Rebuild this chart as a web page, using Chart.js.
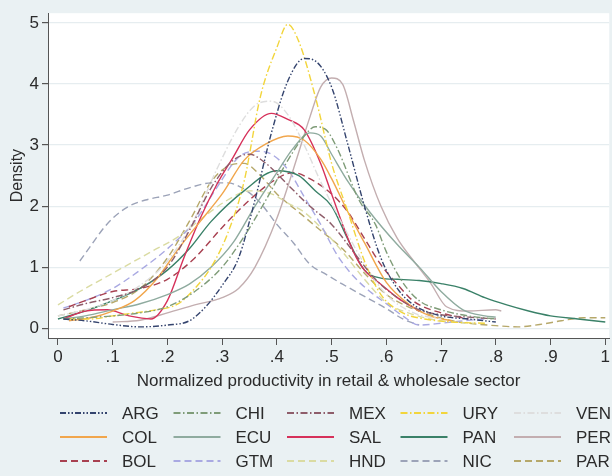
<!DOCTYPE html>
<html>
<head>
<meta charset="utf-8">
<script src="https://cdn.jsdelivr.net/npm/chart.js@4.4.1/dist/chart.umd.min.js"></script>
<style>
  html, body { margin: 0; padding: 0; background: #eaf1f3; }
  #wrap { width: 612px; height: 476px; }
</style>
</head>
<body>
<div id="wrap"><canvas id="c" width="612" height="476"></canvas></div>
<script>
// ---- tick labels ----
const xTickValues = [0, 0.1, 0.2, 0.3, 0.4, 0.5, 0.6, 0.7, 0.8, 0.9, 1];
const xTickLabels = ["0", ".1", ".2", ".3", ".4", ".5", ".6", ".7", ".8", ".9", "1"];
const yTickValues = [0, 1, 2, 3, 4, 5];
const yTickLabels = ["0", "1", "2", "3", "4", "5"];

// ---- series (x = normalized productivity, y = density) ----
const ARG_x = [0.01, 0.05, 0.1, 0.15, 0.2, 0.24, 0.27, 0.3, 0.33, 0.36, 0.39, 0.42, 0.45, 0.47, 0.5, 0.53, 0.56, 0.59, 0.62, 0.65, 0.7, 0.75, 0.8];
const ARG_y = [0.15, 0.12, 0.06, 0.02, 0.05, 0.12, 0.35, 0.7, 1.15, 2.1, 3.2, 4.05, 4.42, 4.38, 3.95, 3.0, 2.0, 1.15, 0.65, 0.38, 0.2, 0.15, 0.1];

const CHI_x = [0.01, 0.05, 0.1, 0.15, 0.2, 0.25, 0.3, 0.34, 0.38, 0.42, 0.45, 0.47, 0.49, 0.51, 0.55, 0.58, 0.6, 0.63, 0.66, 0.7, 0.75, 0.8];
const CHI_y = [0.15, 0.17, 0.2, 0.25, 0.35, 0.6, 1.0, 1.5, 2.1, 2.75, 3.15, 3.3, 3.25, 2.95, 2.1, 1.7, 1.25, 0.75, 0.45, 0.3, 0.2, 0.15];

const MEX_x = [0.01, 0.05, 0.1, 0.15, 0.2, 0.24, 0.28, 0.32, 0.35, 0.38, 0.42, 0.46, 0.5, 0.54, 0.58, 0.62, 0.66, 0.7, 0.75, 0.8];
const MEX_y = [0.3, 0.4, 0.5, 0.65, 1.0, 1.6, 2.3, 2.75, 2.85, 2.7, 2.35, 2.0, 1.7, 1.25, 0.8, 0.5, 0.3, 0.22, 0.18, 0.15];

const URY_x = [0.02, 0.06, 0.1, 0.14, 0.18, 0.22, 0.25, 0.28, 0.31, 0.34, 0.37, 0.4, 0.42, 0.44, 0.47, 0.5, 0.53, 0.56, 0.59, 0.63, 0.67, 0.72, 0.78];
const URY_y = [0.15, 0.15, 0.2, 0.25, 0.3, 0.4, 0.65, 1.0, 1.55, 2.4, 3.8, 4.6, 4.98, 4.7, 3.8, 2.7, 1.9, 1.1, 0.55, 0.25, 0.15, 0.1, 0.08];

const VEN_x = [0.0, 0.05, 0.1, 0.15, 0.2, 0.25, 0.29, 0.33, 0.36, 0.39, 0.42, 0.45, 0.48, 0.52, 0.56, 0.6, 0.65, 0.7];
const VEN_y = [0.2, 0.3, 0.45, 0.7, 1.1, 1.8, 2.6, 3.3, 3.65, 3.72, 3.5, 3.0, 2.4, 1.7, 1.05, 0.55, 0.25, 0.15];

const COL_x = [0.02, 0.06, 0.1, 0.14, 0.18, 0.22, 0.26, 0.3, 0.34, 0.38, 0.42, 0.45, 0.48, 0.5, 0.53, 0.56, 0.6, 0.64, 0.68, 0.72];
const COL_y = [0.12, 0.17, 0.28, 0.45, 0.8, 1.3, 1.75, 2.2, 2.75, 3.02, 3.15, 3.08, 2.77, 2.45, 1.9, 1.4, 0.75, 0.4, 0.2, 0.12];

const ECU_x = [0.01, 0.05, 0.1, 0.15, 0.2, 0.24, 0.28, 0.32, 0.36, 0.4, 0.43, 0.46, 0.48, 0.5, 0.53, 0.57, 0.62, 0.66, 0.7, 0.74, 0.78, 0.8];
const ECU_y = [0.15, 0.2, 0.3, 0.4, 0.55, 0.72, 1.0, 1.4, 2.0, 2.55, 2.95, 3.2, 3.15, 2.85, 2.4, 1.9, 1.37, 1.0, 0.6, 0.3, 0.2, 0.18];

const SAL_x = [0.01, 0.05, 0.09, 0.13, 0.17, 0.2, 0.23, 0.26, 0.29, 0.32, 0.35, 0.39, 0.42, 0.45, 0.48, 0.5, 0.52, 0.54, 0.56, 0.59, 0.62, 0.66];
const SAL_y = [0.15, 0.28, 0.3, 0.2, 0.15, 0.45, 1.15, 1.8, 2.35, 2.8, 3.25, 3.52, 3.42, 3.25, 2.7, 2.2, 1.7, 1.25, 0.95, 0.72, 0.5, 0.28];

const PAN_x = [0.0, 0.05, 0.1, 0.15, 0.2, 0.24, 0.28, 0.34, 0.4, 0.44, 0.47, 0.5, 0.53, 0.56, 0.59, 0.62, 0.66, 0.7, 0.74, 0.78, 0.82, 0.86, 0.9, 0.95, 1.0];
const PAN_y = [0.15, 0.28, 0.45, 0.65, 0.95, 1.3, 1.75, 2.25, 2.58, 2.5, 2.25, 2.0, 1.45, 0.95, 0.82, 0.8, 0.78, 0.73, 0.65, 0.5, 0.38, 0.28, 0.2, 0.15, 0.1];

const PER_x = [0.1, 0.15, 0.2, 0.25, 0.3, 0.33, 0.36, 0.4, 0.43, 0.46, 0.48, 0.5, 0.52, 0.54, 0.56, 0.59, 0.62, 0.65, 0.68, 0.71, 0.75, 0.8, 0.81];
const PER_y = [0.1, 0.13, 0.25, 0.38, 0.5, 0.65, 1.0, 1.8, 2.6, 3.45, 3.95, 4.1, 4.0, 3.4, 2.75, 2.0, 1.47, 1.1, 0.75, 0.35, 0.28, 0.3, 0.28];

const BOL_x = [0.02, 0.05, 0.1, 0.15, 0.2, 0.25, 0.3, 0.35, 0.4, 0.43, 0.46, 0.5, 0.53, 0.56, 0.59, 0.62, 0.65, 0.7, 0.75];
const BOL_y = [0.35, 0.45, 0.6, 0.65, 0.8, 1.15, 1.65, 2.1, 2.45, 2.55, 2.45, 2.2, 1.9, 1.47, 1.04, 0.72, 0.44, 0.25, 0.15];

const GTM_x = [0.01, 0.05, 0.1, 0.15, 0.2, 0.25, 0.29, 0.33, 0.36, 0.39, 0.42, 0.45, 0.48, 0.51, 0.54, 0.57, 0.6, 0.63, 0.66, 0.7, 0.74, 0.78];
const GTM_y = [0.33, 0.45, 0.65, 0.95, 1.3, 1.75, 2.3, 2.8, 2.9, 2.85, 2.6, 2.15, 1.7, 1.2, 0.85, 0.6, 0.4, 0.2, 0.05, 0.08, 0.12, 0.15];

const HND_x = [0.0, 0.04, 0.08, 0.12, 0.17, 0.22, 0.27, 0.31, 0.35, 0.39, 0.42, 0.45, 0.48, 0.52, 0.56, 0.6, 0.64, 0.68, 0.72, 0.76];
const HND_y = [0.38, 0.6, 0.8, 1.0, 1.25, 1.5, 1.85, 2.1, 2.25, 2.2, 2.05, 1.9, 1.65, 1.25, 0.8, 0.42, 0.25, 0.15, 0.1, 0.08];

const NIC_x = [0.04, 0.06, 0.08, 0.1, 0.13, 0.16, 0.2, 0.24, 0.28, 0.31, 0.34, 0.37, 0.4, 0.43, 0.46, 0.49, 0.52, 0.56, 0.6, 0.63, 0.66];
const NIC_y = [1.1, 1.35, 1.6, 1.8, 2.0, 2.1, 2.18, 2.3, 2.38, 2.38, 2.28, 2.05, 1.7, 1.4, 1.05, 0.88, 0.72, 0.52, 0.32, 0.15, 0.05];

const PAR_x = [0.0, 0.05, 0.1, 0.15, 0.2, 0.24, 0.28, 0.31, 0.34, 0.37, 0.4, 0.44, 0.48, 0.52, 0.56, 0.6, 0.64, 0.68, 0.72, 0.76, 0.8, 0.84, 0.88, 0.92, 0.96, 1.0];
const PAR_y = [0.2, 0.3, 0.42, 0.65, 1.15, 1.75, 2.4, 2.65, 2.7, 2.5, 2.2, 1.9, 1.6, 1.3, 0.9, 0.55, 0.35, 0.22, 0.12, 0.07, 0.04, 0.02, 0.06, 0.12, 0.17, 0.17];

const countries = ["ARG", "CHI", "MEX", "URY", "VEN", "COL", "ECU", "SAL", "PAN", "PER", "BOL", "GTM", "HND", "NIC", "PAR"];
const seriesX = [ARG_x, CHI_x, MEX_x, URY_x, VEN_x, COL_x, ECU_x, SAL_x, PAN_x, PER_x, BOL_x, GTM_x, HND_x, NIC_x, PAR_x];
const seriesY = [ARG_y, CHI_y, MEX_y, URY_y, VEN_y, COL_y, ECU_y, SAL_y, PAN_y, PER_y, BOL_y, GTM_y, HND_y, NIC_y, PAR_y];

// ---- styles ----
const DASHDOTDOT = [6, 2, 1.5, 2, 1.5, 2];
const DASHDOT = [7, 2.5, 1.5, 2.5];
const DASH = [7, 4];
const SOLID = [];
const styles = [
  { c: "#34446e", d: DASHDOTDOT },
  { c: "#7f9c78", d: DASHDOT },
  { c: "#8e5d6a", d: DASHDOT },
  { c: "#f2d53c", d: DASHDOT },
  { c: "#dedede", d: DASHDOT },
  { c: "#f1a64c", d: SOLID },
  { c: "#8fab9f", d: SOLID },
  { c: "#d6315a", d: SOLID },
  { c: "#3a8168", d: SOLID },
  { c: "#c3aeb0", d: SOLID },
  { c: "#a84050", d: DASH },
  { c: "#a9a9e2", d: DASH },
  { c: "#dadba2", d: DASH },
  { c: "#9ca3b8", d: DASH },
  { c: "#b6a86a", d: DASH }
];

const FONT = "'Liberation Sans', Arial, Helvetica, sans-serif";
const TXT = "#2b2b2b";

const datasets = countries.map((name, i) => ({
  label: name,
  data: seriesX[i].map((x, k) => ({ x: x, y: seriesY[i][k] })),
  borderColor: styles[i].c,
  borderDash: styles[i].d,
  borderWidth: 1.4,
  pointRadius: 0,
  fill: false,
  cubicInterpolationMode: 'monotone',
  order: i
}));

const bgPlugin = {
  id: 'bg',
  beforeDraw(chart) {
    const { ctx, chartArea: a } = chart;
    ctx.save();
    ctx.fillStyle = '#eaf1f3';
    ctx.fillRect(0, 0, chart.width, chart.height);
    ctx.fillStyle = '#ffffff';
    ctx.fillRect(a.left, a.top, a.right - a.left, a.bottom - a.top);
    ctx.restore();
  }
};

const legendPlugin = {
  id: 'gridLegend',
  afterDraw(chart) {
    const ctx = chart.ctx;
    ctx.save();
    ctx.font = "17px " + FONT;
    ctx.textBaseline = 'middle';
    countries.forEach((name, i) => {
      const col = i % 5, row = Math.floor(i / 5);
      const x0 = 60 + col * 113.5;
      const y = 413 + row * 24;
      ctx.strokeStyle = styles[i].c;
      ctx.lineWidth = 2;
      ctx.setLineDash(styles[i].d);
      ctx.beginPath();
      ctx.moveTo(x0, y);
      ctx.lineTo(x0 + 47, y);
      ctx.stroke();
      ctx.setLineDash([]);
      ctx.fillStyle = TXT;
      ctx.fillText(name, x0 + 62, y + 1);
    });
    ctx.restore();
  }
};

new Chart(document.getElementById('c'), {
  type: 'line',
  data: { datasets },
  options: {
    responsive: false,
    animation: false,
    parsing: true,
    layout: { padding: { top: 10, bottom: 78, left: 0, right: 0 } },
    plugins: { legend: { display: false }, tooltip: { enabled: false } },
    scales: {
      x: {
        type: 'linear',
        min: -0.01818,
        max: 1.00727,
        afterBuildTicks(scale) { scale.ticks = xTickValues.map(v => ({ value: v })); },
        afterFit(scale) { scale.height = 60; },
        ticks: {
          autoSkip: false,
          maxRotation: 0,
          padding: 2,
          color: TXT,
          font: { family: FONT, size: 17 },
          callback: (v) => { const k = xTickValues.findIndex(t => Math.abs(t - v) < 1e-9); return k >= 0 ? xTickLabels[k] : ''; }
        },
        grid: { drawOnChartArea: false, drawTicks: true, tickLength: 7, tickColor: '#555', tickWidth: 1 },
        border: { display: true, color: '#555', width: 1 },
        title: {
          display: true,
          text: 'Normalized productivity in retail & wholesale sector',
          color: TXT,
          font: { family: FONT, size: 17 },
          padding: { top: 0, bottom: 6 }
        }
      },
      y: {
        type: 'linear',
        min: -0.162,
        max: 5.162,
        afterBuildTicks(scale) { scale.ticks = yTickValues.map(v => ({ value: v })); },
        afterFit(scale) { scale.width = 48; },
        ticks: {
          autoSkip: false,
          padding: 3,
          color: TXT,
          font: { family: FONT, size: 17 },
          callback: (v) => { const k = yTickValues.indexOf(v); return k >= 0 ? yTickLabels[k] : ''; }
        },
        grid: { drawOnChartArea: true, color: '#e6edf0', lineWidth: 1.2, drawTicks: true, tickLength: 6, tickColor: '#555' },
        border: { display: true, color: '#555', width: 1 },
        title: {
          display: true,
          text: 'Density',
          color: TXT,
          font: { family: FONT, size: 16 },
          padding: { top: 8, bottom: 0 }
        }
      }
    }
  },
  plugins: [bgPlugin, legendPlugin]
});
</script>
</body>
</html>
